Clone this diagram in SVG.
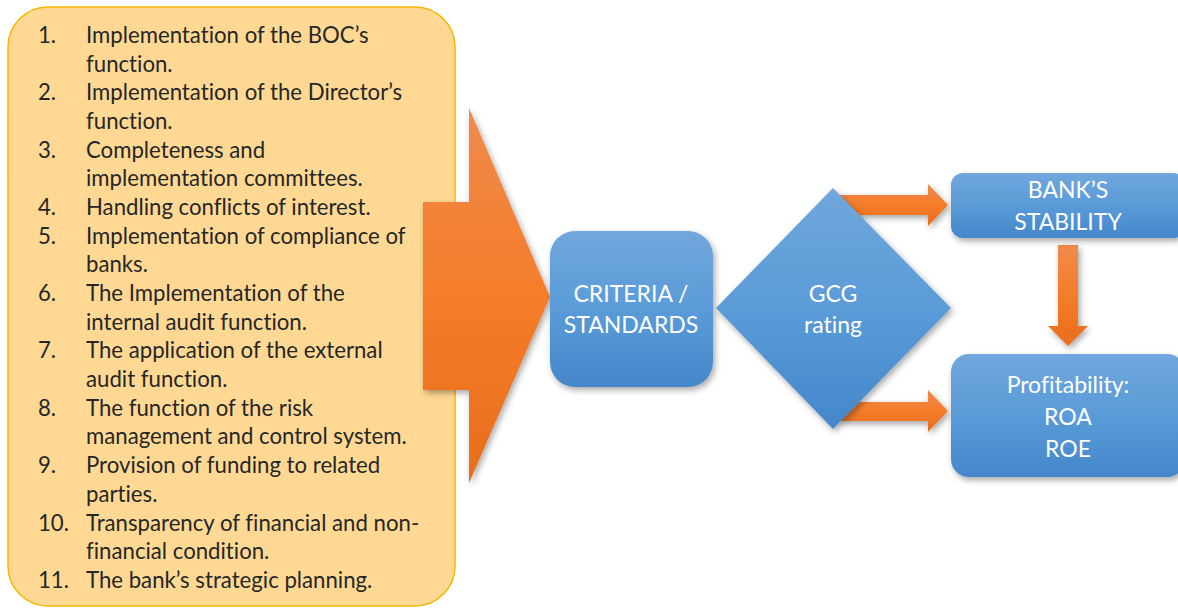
<svg xmlns="http://www.w3.org/2000/svg" width="1178" height="608" viewBox="0 0 1178 608">
<defs>
<linearGradient id="gOrange" x1="0" y1="0" x2="0" y2="1">
<stop offset="0" stop-color="#F08A4B"/>
<stop offset="0.5" stop-color="#F47D2A"/>
<stop offset="1" stop-color="#E86D1C"/>
</linearGradient>
<linearGradient id="gBlue" x1="0" y1="0" x2="0" y2="1">
<stop offset="0" stop-color="#70A7DC"/>
<stop offset="0.5" stop-color="#5A9BD8"/>
<stop offset="1" stop-color="#4487CA"/>
</linearGradient>
<filter id="sh" x="-20%" y="-20%" width="140%" height="140%">
<feDropShadow dx="2" dy="3" stdDeviation="3" flood-color="#000" flood-opacity="0.35"/>
</filter>
</defs>
<style>
.list{font-family:Lato,"Liberation Sans",sans-serif;font-size:22.2px;fill:#262626;font-variant-ligatures:none}
.lbl{font-family:Lato,"Liberation Sans",sans-serif;font-size:23px;fill:#FFFFFF;text-anchor:middle;font-variant-ligatures:none}
.blue{fill:url(#gBlue);filter:url(#sh)}
.orange{fill:url(#gOrange);filter:url(#sh)}
</style>
<rect width="1178" height="608" fill="#FFFFFF"/>
<g id="list-panel">
<rect x="8" y="7" width="447" height="599" rx="40" ry="40" fill="#FFD993" stroke="#F5B700" stroke-width="1.5"/>
<g class="list">
<text x="38" y="43">1.</text><text x="86" y="43">Implementation of the BOC’s</text>
<text x="86" y="72">function.</text>
<text x="38" y="100">2.</text><text x="86" y="100">Implementation of the Director’s</text>
<text x="86" y="129">function.</text>
<text x="38" y="158">3.</text><text x="86" y="158">Completeness and</text>
<text x="86" y="186">implementation committees.</text>
<text x="38" y="215">4.</text><text x="86" y="215">Handling conflicts of interest.</text>
<text x="38" y="244">5.</text><text x="86" y="244">Implementation of compliance of</text>
<text x="86" y="272">banks.</text>
<text x="38" y="301">6.</text><text x="86" y="301">The Implementation of the</text>
<text x="86" y="330">internal audit function.</text>
<text x="38" y="358">7.</text><text x="86" y="358">The application of the external</text>
<text x="86" y="387">audit function.</text>
<text x="38" y="416">8.</text><text x="86" y="416">The function of the risk</text>
<text x="86" y="444">management and control system.</text>
<text x="38" y="473">9.</text><text x="86" y="473">Provision of funding to related</text>
<text x="86" y="502">parties.</text>
<text x="38" y="531">10.</text><text x="86" y="531">Transparency of financial and non-</text>
<text x="86" y="559">financial condition.</text>
<text x="38" y="588">11.</text><text x="86" y="588">The bank’s strategic planning.</text>
</g>
</g>
<g id="connectors">
<polygon id="big-arrow" class="orange" points="423,202 469,202 469,108 550,297 469,483 469,390 423,390"/>
<polygon id="arrow-top" class="orange" points="840,195 928,195 928,184 948,205 928,226 928,215 840,215"/>
<polygon id="arrow-bottom" class="orange" points="840,402 928,402 928,390 948,411 928,432 928,421 840,421"/>
<polygon id="arrow-down" class="orange" points="1058,245 1078,245 1078,326 1088,326 1068,346 1048,326 1058,326"/>
</g>
<g id="criteria">
<rect class="blue" x="550" y="231" width="163" height="156" rx="25" ry="25"/>
<text class="lbl" x="631" y="302">CRITERIA /</text>
<text class="lbl" x="631" y="333">STANDARDS</text>
</g>
<g id="gcg">
<polygon class="blue" points="716,308 833,188 951,308 833,429"/>
<text class="lbl" x="833" y="302">GCG</text>
<text class="lbl" x="833" y="333">rating</text>
</g>
<g id="stability">
<rect class="blue" x="951" y="173" width="234" height="65" rx="12" ry="12"/>
<text class="lbl" x="1068" y="198">BANK’S</text>
<text class="lbl" x="1068" y="230">STABILITY</text>
</g>
<g id="profitability">
<rect class="blue" x="951" y="354" width="234" height="123" rx="18" ry="18"/>
<text class="lbl" x="1068" y="393">Profitability:</text>
<text class="lbl" x="1068" y="425">ROA</text>
<text class="lbl" x="1068" y="457">ROE</text>
</g>
</svg>
